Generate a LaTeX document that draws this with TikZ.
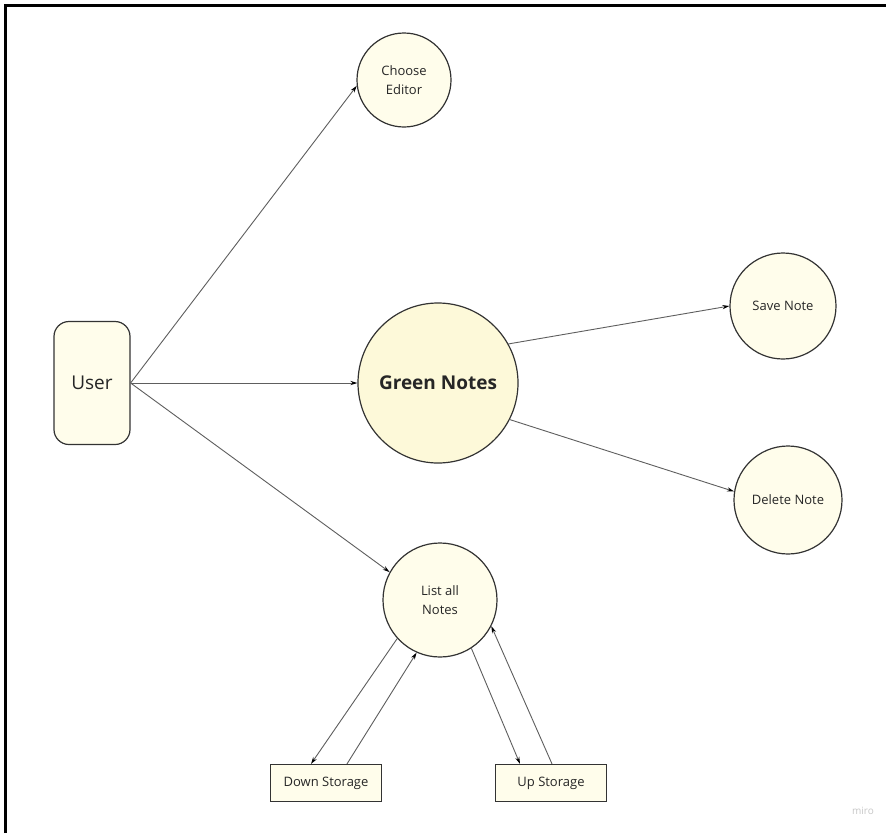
\documentclass[tikz,border=0pt]{standalone}
\usepackage{fontspec}
\setmainfont{Open Sans}
\usetikzlibrary{arrows.meta}
\definecolor{bubble}{HTML}{FFFDEB}
\definecolor{mainbubble}{HTML}{FDF9D9}
\definecolor{edge}{HTML}{333333}
\definecolor{wire}{HTML}{5E5E5E}
\tikzset{
  proc/.style={circle, draw=edge, line width=1.2pt, fill=bubble, inner sep=0pt,
    align=center, font=\fontsize{13}{18.5}\selectfont, text=black!85},
  store/.style={rectangle, draw=edge, line width=1.2pt, fill=bubble, inner sep=0pt,
    minimum width=111pt, minimum height=37pt, font=\fontsize{13}{16}\selectfont, text=black!85},
  flow/.style={draw=wire, line width=0.9pt, -{Stealth[length=7pt,width=4.2pt,color=black]}},
}
\begin{document}
\begin{tikzpicture}[x=1pt, y=-1pt]
\useasboundingbox (0,0) rectangle (886,833);
\fill[white] (0,0) rectangle (886,833);
% page frame (top and left edges)
\draw[line width=3pt] (5.5,833) -- (5.5,5) -- (886,5);

% external entity
\node[draw=edge, line width=1.2pt, fill=bubble, rounded corners=15pt,
  minimum width=76pt, minimum height=123pt, inner sep=0pt,
  font=\fontsize{19}{22}\selectfont, text=black!85] (user) at (92,383) {User};

% processes
\node[proc, minimum size=94pt] (ce) at (404,80) {Choose\\Editor};
\node[proc, minimum size=160pt, fill=mainbubble,
  font=\fontsize{19}{22}\selectfont\bfseries] (gn) at (438,383) {Green Notes};
\node[proc, minimum size=106pt] (save) at (783,306) {Save Note};
\node[proc, minimum size=108pt] (del) at (788,500) {Delete Note};
\node[proc, minimum size=114pt] (list) at (440,600) {List all\\Notes};

% data stores
\node[store] (down) at (326,783) {Down Storage};
\node[store] (up) at (551,783) {Up Storage};

% flows
\draw[flow] (user.east) -- (ce.187);
\draw[flow] (user.east) -- (gn.west);
\draw[flow] (user.east) -- (list.151);
\draw[flow] (gn.29) -- (save.west);
\draw[flow] (gn.-27) -- (del.171);
\draw[flow] (list.222) -- ([xshift=-15pt]down.north);
\draw[flow] ([xshift=21pt]down.north) -- (list.246);
\draw[flow] (list.-57) -- ([xshift=-31pt]up.north);
\draw[flow] ([xshift=1pt]up.north) -- (list.-27);

% watermark
\node[font=\fontsize{10}{12}\selectfont, text=black!22] (wm) at (863,811) {miro};
\end{tikzpicture}
\end{document}
